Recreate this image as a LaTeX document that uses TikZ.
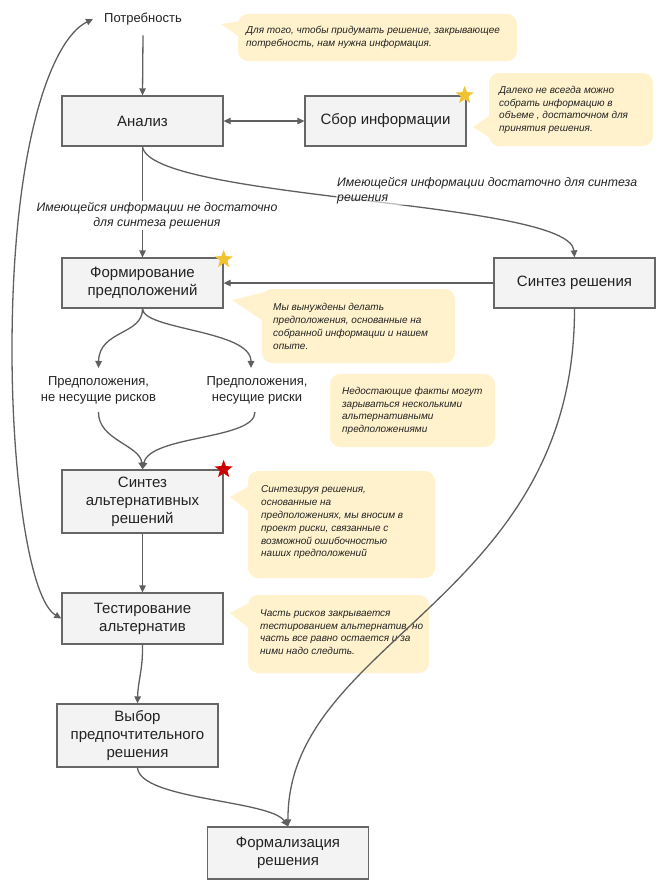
\documentclass[tikz,border=0pt]{standalone}
\usepackage{fontspec}
\setmainfont{Liberation Sans}
\usetikzlibrary{arrows.meta,shapes.geometric}
\definecolor{boxfill}{HTML}{F3F3F3}
\definecolor{boxline}{HTML}{666666}
\definecolor{arr}{HTML}{5F5F5F}
\definecolor{note}{HTML}{FFF2CC}
\definecolor{staryellow}{HTML}{F1C232}
\definecolor{starred}{HTML}{CC0000}
\definecolor{txt}{HTML}{222222}
\begin{document}
\begin{tikzpicture}[x=1pt,y=-1pt,
  box/.style={draw=boxline, fill=boxfill, line width=1.3pt, align=center, text=txt,
    font=\fontsize{15}{18}\selectfont, inner sep=0pt, minimum width=161pt},
  plain/.style={align=center, text=txt, font=\fontsize{13}{16}\selectfont, inner sep=0pt},
  elabel/.style={align=center, text=txt, font=\fontsize{12.3}{15}\selectfont\itshape, inner sep=1pt},
  notetext/.style={align=left, anchor=west, text=txt, font=\fontsize{10}{12.8}\selectfont\itshape, inner sep=0pt},
  notebg/.style={fill=note, rounded corners=10pt},
  conn/.style={draw=arr, line width=1.3pt, -{Triangle[length=7pt,width=6.5pt]}},
  conn2/.style={draw=arr, line width=1.3pt, {Triangle[length=7pt,width=6.5pt]}-{Triangle[length=7pt,width=6.5pt]}},
  starnode/.style={star, star points=5, star point ratio=2.4, minimum size=19pt, inner sep=0pt}]
\useasboundingbox (0,0) rectangle (662,884);

% callout backgrounds
\fill[notebg] (238,14) rectangle (517,61);
\fill[note] (221,24) -- (241,21) -- (241,38) -- cycle;
\fill[notebg] (489,73) rectangle (653,146);
\fill[note] (473,127) -- (492,114) -- (492,139) -- cycle;
\fill[notebg] (262,289) rectangle (455,363);
\fill[note] (232,300) -- (265,292) -- (265,322) -- cycle;
\fill[notebg] (330,374) rectangle (495,447);
\fill[notebg] (248,471) rectangle (435,578);
\fill[note] (230,497) -- (251,485) -- (251,513) -- cycle;
\fill[notebg] (248,595) rectangle (429,673);
\fill[note] (230,613) -- (251,602) -- (251,630) -- cycle;

% callout texts
\node[notetext] (t1) at (246,37.5) {Для того, чтобы придумать решение, закрывающее\\потребность, нам нужна информация.};
\node[notetext] (t2) at (499,110) {Далеко не всегда можно\\собрать информацию в\\объеме , достаточном для\\принятия решения.};
\node[notetext] (t3) at (273,326.5) {Мы вынуждены делать\\предположения, основанные на\\собранной информации и нашем\\опыте.};
\node[notetext] (t4) at (342,411) {Недостающие факты могут\\зарываться несколькими\\альтернативными\\предположениями};
\node[notetext] (t5) at (261,522.5) {Синтезируя решения,\\основанные на\\предположениях, мы вносим в\\проект риски, связанные с\\возможной ошибочностью\\наших предположений};
\node[notetext] (t6) at (260,632) {Часть рисков закрывается\\тестированием альтернатив, но\\часть все равно остается и за\\ними надо следить.};

% nodes
\node[plain, inner xsep=11pt, inner ysep=10pt] (potr) at (143,19) {Потребность};
\node[box, minimum height=50pt] (analiz) at (142.5,121) {Анализ};
\node[box, minimum height=50pt] (sbor) at (385.5,121) {Сбор информации};
\node[box, minimum height=50pt] (form) at (142.5,283) {Формирование\\предположений};
\node[box, minimum height=50pt] (sintez) at (574.5,283) {Синтез решения};
\node[plain, inner ysep=8pt] (lab1) at (98.5,390) {Предположения,\\не несущие рисков};
\node[plain, inner ysep=8pt] (lab2) at (257,390) {Предположения,\\несущие риски};
\node[box, minimum height=63pt] (alt) at (142.5,501.5) {Синтез\\альтернативных\\решений};
\node[box, minimum height=51pt] (test) at (142.5,618.5) {Тестирование\\альтернатив};
\node[box, minimum height=63pt] (vybor) at (137.5,735.5) {Выбор\\предпочтительного\\решения};
\node[box, minimum height=52pt] (formal) at (288,853) {Формализация\\решения};

% connectors
\draw[conn] (potr.south) -- (analiz.north);
\draw[conn2] (analiz.east) -- (sbor.west);
\draw[conn] (analiz.south) -- (form.north);
\draw[conn] (analiz.south) .. controls (150,200) and (570,200) .. (sintez.north);
\draw[conn] (sintez.west) -- (form.east);
\draw[conn] (form.south) .. controls (143,335) and (99,330) .. (lab1.north);
\draw[conn] (form.south) .. controls (143,330) and (251,330) .. ([xshift=-6pt]lab2.north);
\draw[conn] (lab1.south) .. controls (98,440) and (140,445) .. (alt.north);
\draw[conn] ([xshift=-2pt]lab2.south) .. controls (255,440) and (150,435) .. (alt.north);
\draw[conn] (alt.south) -- (test.north);
\draw[conn] (test.south) .. controls (143,670) and (138,680) .. (vybor.north);
\draw[conn] (vybor.south) .. controls (140,800) and (270,800) .. (formal.north);
\draw[conn] (sintez.south) .. controls (575,600) and (287,640) .. (formal.north);
\draw[conn2] (test.west) .. controls (30,600) and (12,480) .. (12,350) .. controls (12,150) and (50,40) .. (potr.west);

% edge labels
\node[elabel, fill=white] (l1) at (157,215.5) {Имеющейся информации не достаточно\\для синтеза решения};
\node[elabel, anchor=west, align=left, fill=white, fill opacity=0.6, text opacity=1] (l2) at (336,190.5) {Имеющейся информации достаточно для синтеза\\решения};

% stars
\node[starnode, fill=staryellow] (s1) at ([xshift=-2pt]sbor.north east) {};
\node[starnode, fill=staryellow] (s2) at ([yshift=-2pt]form.north east) {};
\node[starnode, fill=starred] (s3) at (alt.north east) {};
\end{tikzpicture}
\end{document}
